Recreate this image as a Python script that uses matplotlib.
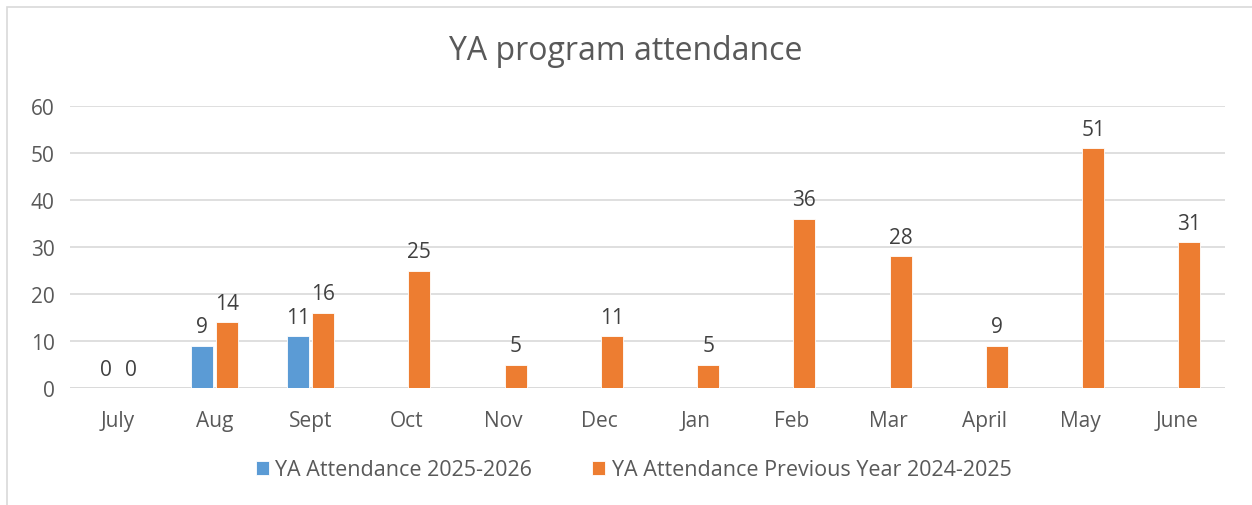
import numpy as np
import matplotlib.pyplot as plt
from matplotlib.patches import Rectangle

months = ["July", "Aug", "Sept", "Oct", "Nov", "Dec", "Jan", "Feb", "Mar", "April", "May", "June"]
current = [0, 9, 11]  # 2025-2026, only July-Sept so far
previous = [0, 14, 16, 25, 5, 11, 5, 36, 28, 9, 51, 31]

blue = "#5B9BD5"
orange = "#ED7D31"
text_col = "#595959"

plt.rcParams['font.family'] = ['Open Sans', 'DejaVu Sans']

fig = plt.figure(figsize=(12.52, 5.06), dpi=100)
ax = fig.add_axes([70 / 1252, 1 - 389 / 506, 1155 / 1252, 282 / 506])

x = np.arange(len(months))
w = 0.23
gap = 0.015
xc = x[:len(current)]
b1 = ax.bar(xc - w / 2 - gap, current, w, color=blue, edgecolor="white", linewidth=0.6,
            label="YA Attendance 2025-2026", zorder=3)
b2 = ax.bar(x + w / 2 + gap, previous, w, color=orange, edgecolor="white", linewidth=0.6,
            label="YA Attendance Previous Year 2024-2025", zorder=3)
ax.bar_label(b1, padding=6, fontsize=15, color="#404040")
ax.bar_label(b2, padding=6, fontsize=15, color="#404040")

ax.set_xlim(-0.5, len(months) - 0.5)
ax.set_ylim(0, 60)
ax.set_yticks(range(0, 61, 10))
ax.set_xticks(x)
ax.set_xticklabels(months)
ax.tick_params(axis="both", length=0, labelsize=15, labelcolor=text_col)
ax.tick_params(axis="x", pad=16)
ax.tick_params(axis="y", pad=11)
ax.grid(axis="y", color="#D9D9D9", linewidth=1.2, zorder=0)
for s in ax.spines.values():
    s.set_visible(False)
ax.axhline(0, color="#D9D9D9", linewidth=1.2, zorder=1)

fig.text(0.5, 1 - 52 / 506, "YA program attendance", ha="center", va="center",
         fontsize=23, color=text_col)

fig.legend(loc="center", bbox_to_anchor=(0.506, 1 - 471 / 506), ncol=2, frameon=False,
           fontsize=15.5, labelcolor=text_col, handlelength=0.6, handleheight=0.6,
           handletextpad=0.3, columnspacing=2.8)

fig.patches.append(Rectangle((7 / 1252, -0.1), 1.5, 1 - 8 / 506 + 0.1, transform=fig.transFigure,
                             fill=False, edgecolor="#D9D9D9", linewidth=1.2))

fig.savefig("out.png", dpi=100)
